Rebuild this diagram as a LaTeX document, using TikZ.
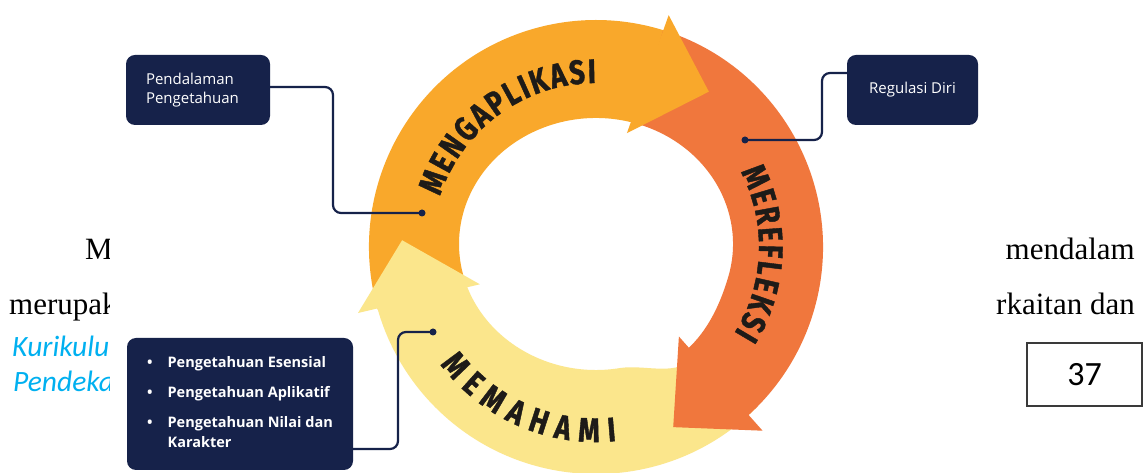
\documentclass[tikz,border=0pt]{standalone}
\usepackage{fontspec}
\setmainfont{Liberation Serif}
\newfontfamily\osans{Open Sans}
\newfontfamily\carlito{Carlito}
\newfontfamily\ringfont{Fira Sans}[FakeStretch=0.8,FakeBold=1.2]
\usetikzlibrary{decorations.text}
\definecolor{navy}{HTML}{16224A}
\definecolor{orA}{HTML}{F9A82B}
\definecolor{orB}{HTML}{F0773D}
\definecolor{yeC}{HTML}{FBE68C}
\definecolor{ink}{HTML}{1E1B18}
\definecolor{kblue}{HTML}{00B0F0}
\definecolor{pgray}{HTML}{3A3A3A}
\newcommand\ringfmt{\color{ink}\ringfont\bfseries\fontsize{34}{34}\selectfont}
\begin{document}
\begin{tikzpicture}[x=1pt,y=1pt,
  navybox/.style={fill=navy, rounded corners=9pt, text=white, font=\osans\fontsize{15}{19}\selectfont, inner sep=0pt},
  conn/.style={draw=navy, line width=2.2pt, rounded corners=8pt},
  dotc/.style={circle, fill=navy, inner sep=0pt, minimum size=7pt},
  serif/.style={font=\fontsize{31}{37}\selectfont, inner sep=0pt, text=black},
  bluetxt/.style={font=\carlito\itshape\fontsize{29.5}{35}\selectfont, text=kblue, inner sep=0pt}
]
\useasboundingbox (0,0) rectangle (1148,473);
\fill[white] (0,0) rectangle (1148,473);

% page text behind the figure
\node[serif, anchor=base west] (pM) at (85,213) {M};
\node[serif, anchor=base west] (pmer) at (9,158) {merupak};
\node[serif, anchor=base east] (pmen) at (1135,213) {mendalam};
\node[serif, anchor=base east] (prk) at (1135,158) {rkaitan dan};
\node[bluetxt, anchor=base west] (pk) at (12,116) {Kurikulu};
\node[bluetxt, anchor=base west] (pp) at (13,81) {Pendeka};
\node[draw=pgray, line width=1.5pt, minimum width=115pt, minimum height=63pt,
      font=\carlito\fontsize{34}{40}\selectfont, inner sep=0pt] (pg) at (1084.5,98.5) {37};

% figure background
\fill[white] (110,0) rectangle (993,473);

\begin{scope}[shift={(596,226)}]
  % bodies (orange, then yellow, then red)
  \fill[orA] (196:227) arc[start angle=196, end angle=72, radius=227]
     -- ([shift={(0,3)}]72:137 and 126) arc[start angle=72, end angle=196, x radius=137, y radius=126] -- cycle;
  \fill[yeC] (-45:227) arc[start angle=-45, end angle=-165.5, radius=227]
     -- ([shift={(0,3)}]-165.5:137 and 126) arc[start angle=-165.5, end angle=-80, x radius=137, y radius=126]
     .. controls (47.5,-117.3) and (76.7,-128.8) .. (-50:148) -- (-45:148) -- cycle;
  \fill[orB] (72.8:227) arc[start angle=72.8, end angle=-48.5, radius=227]
     -- (-48.5:137) .. controls (111.8,-84.0) and (124.5,-56.5) .. ([shift={(0,3)}]-15:137 and 126)
     arc[start angle=-15, end angle=72.8, x radius=137, y radius=126] -- cycle;
  % heads
  \fill[orA] (72.6:243) -- (54:192) -- (74.8:118) -- cycle;
  \fill[orB] (-47.8:248) -- (-66.8:196) -- (-47.2:122) -- cycle;
  \fill[yeC] (-164.5:247) -- (-182:194) -- (-162.2:122) -- cycle;
  % ring labels
  \path[decorate, decoration={text along path, text align={fit to path}, text={|\ringfmt|MENGAPLIKASI}}]
     (162:164) arc[start angle=162, end angle=90, radius=164];
  \path[decorate, decoration={text along path, text align={fit to path}, text={|\ringfmt|MEREFLEKSI}}]
     (27.5:163) arc[start angle=27.5, end angle=-32, radius=163];
  \path[decorate, decoration={text along path, text align={fit to path}, text={|\ringfmt|MEMAHAMI}}]
     (217:195) arc[start angle=217, end angle=276, radius=195];
\end{scope}

% callout boxes
\node[navybox, minimum width=144pt, minimum height=70pt, text width=104pt, align=left] (b1) at (198,383) {Pendalaman\\Pengetahuan};
\node[navybox, minimum width=131pt, minimum height=70pt] (b2) at (912.5,383) {Regulasi Diri};
\node[navybox, minimum width=226pt, minimum height=132pt, font=\osans\bfseries\fontsize{14.5}{20}\selectfont] (b3) at (240,69)
  {\begin{tabular}{@{}l@{\hspace{15pt}}l@{}}\textbullet & Pengetahuan Esensial\\[10pt]
   \textbullet & Pengetahuan Aplikatif\\[10pt]
   \textbullet & Pengetahuan Nilai dan\\
   & Karakter\end{tabular}};

% connectors
\node[dotc] (d1) at (422,260) {};
\node[dotc] (d2) at (745,333) {};
\node[dotc] (d3) at (433,141) {};
\coordinate (k1) at (333,260);
\coordinate (k2) at (822,333);
\coordinate (k3) at (398,141);
\draw[conn] ([yshift=3pt]b1.east) -| (k1) -- (d1.center);
\draw[conn] ([yshift=17pt]b2.west) -| (k2) -- (d2.center);
\draw[conn] ([yshift=-45pt]b3.east) -| (k3) -- (d3.center);
\end{tikzpicture}
\end{document}
